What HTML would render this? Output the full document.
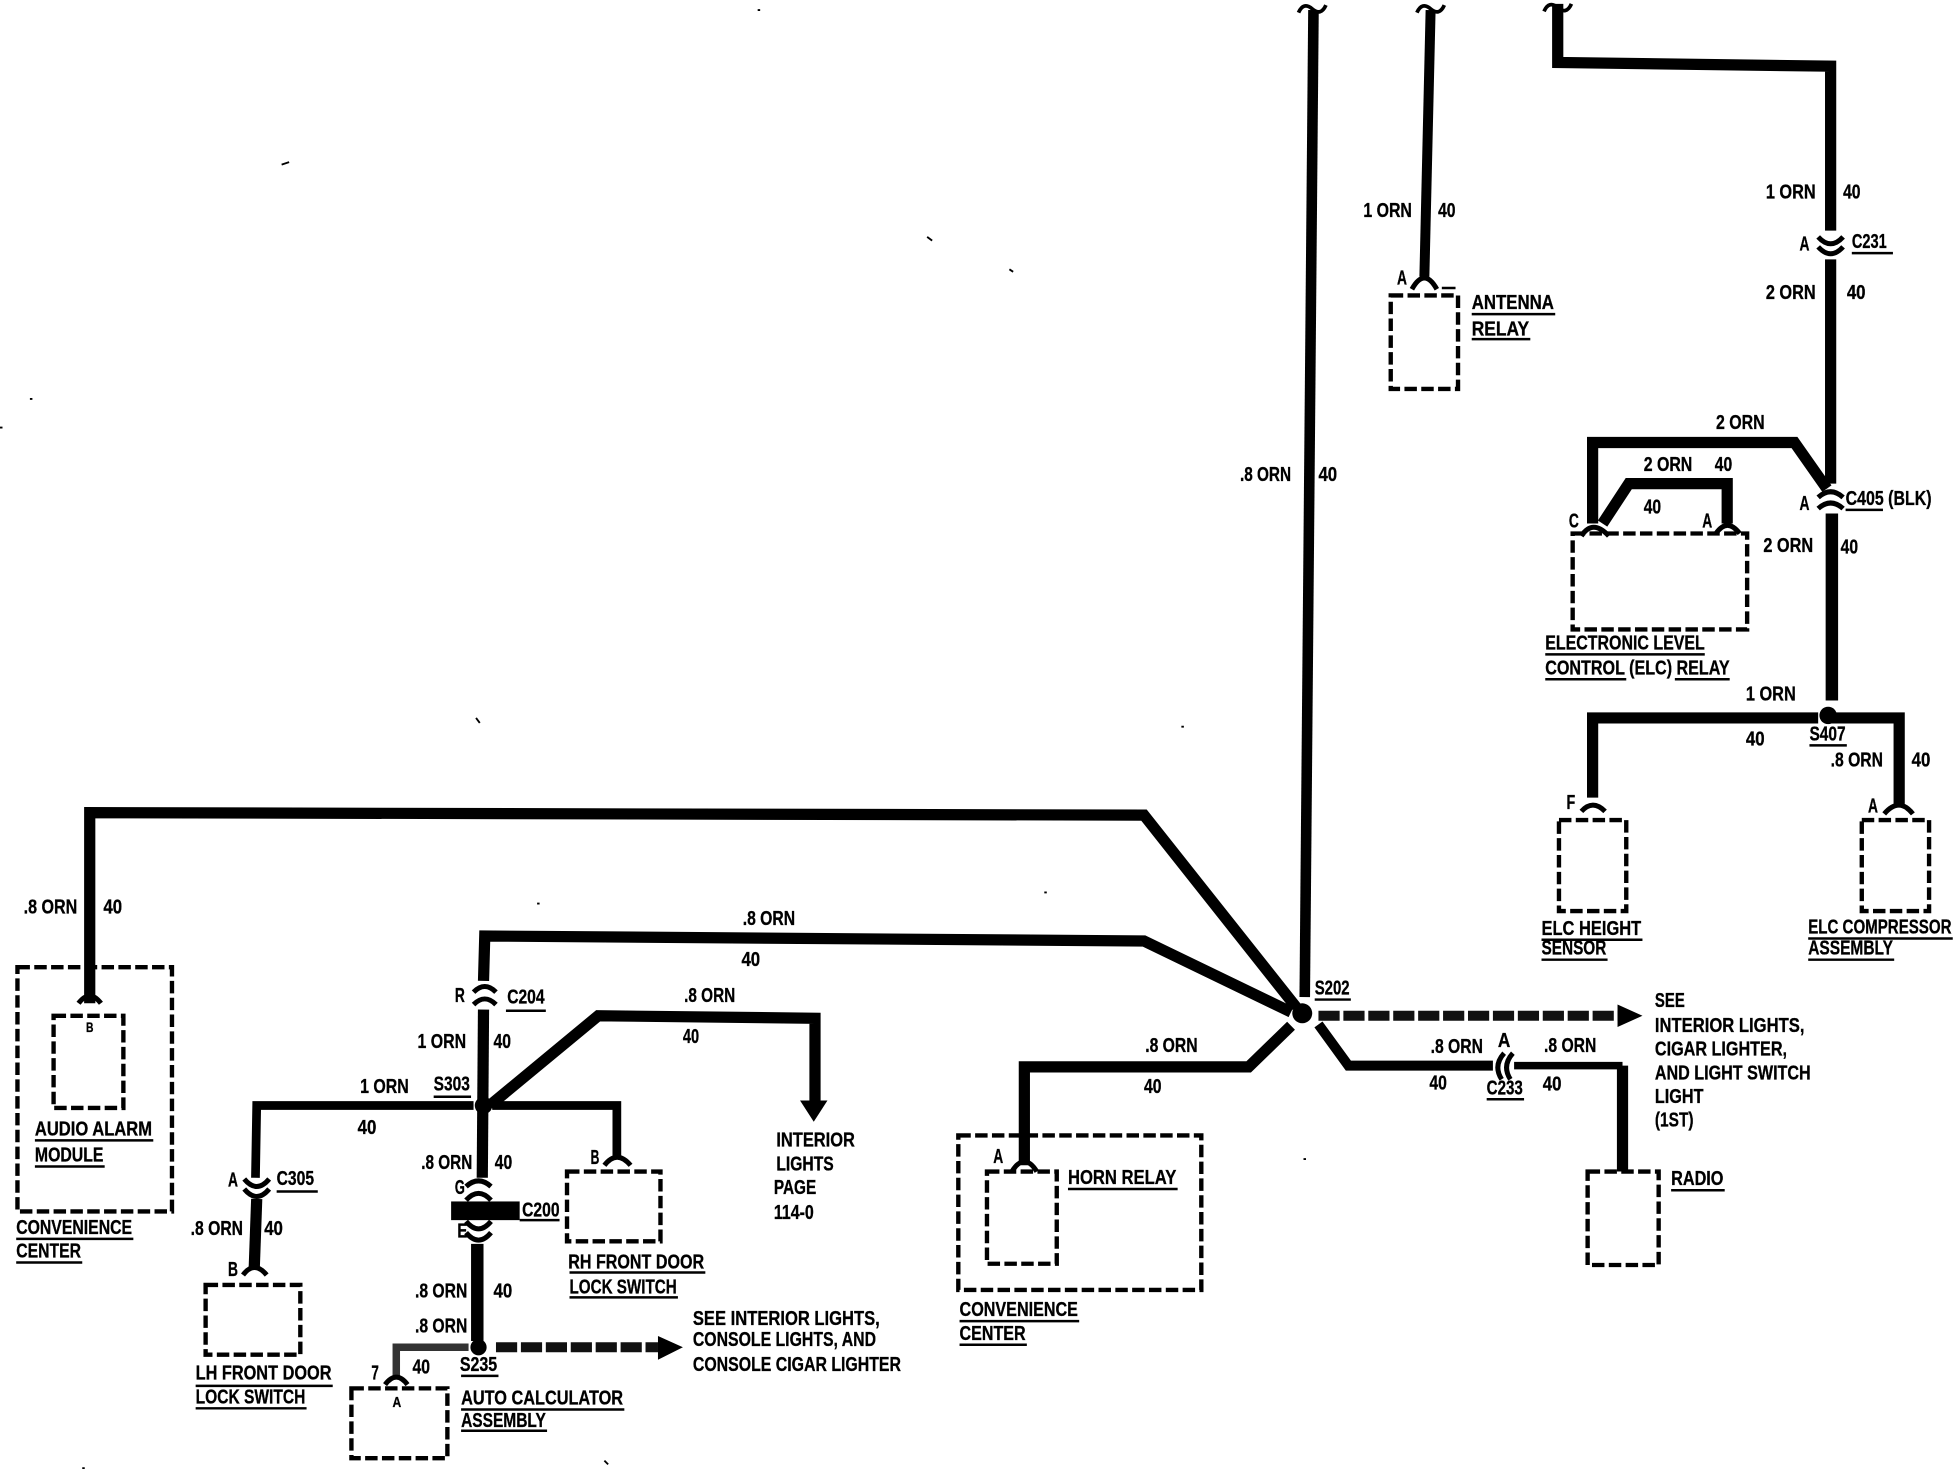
<!DOCTYPE html>
<html><head><meta charset="utf-8"><style>
html,body{margin:0;padding:0;background:#fff}
svg{display:block}
text{font-family:"Liberation Sans Narrow","Liberation Sans",sans-serif;font-weight:bold;font-size:16px;fill:#000;stroke:#000;stroke-width:.25}
.w{fill:none;stroke:#000;stroke-width:9;stroke-linejoin:miter}
.n{fill:none;stroke:#000;stroke-width:7}
.g{fill:none;stroke:#111;stroke-width:8;stroke-dasharray:17 3}
.b{fill:none;stroke:#000;stroke-width:3.5;stroke-dasharray:10 3.5}
.c{fill:none;stroke:#000;stroke-width:4}
.u{stroke:#000;stroke-width:2}
</style></head><body>
<svg width="1954" height="1472" viewBox="0 0 1568 1181" xmlns="http://www.w3.org/2000/svg">
<!-- wires -->
<path class="w" d="M72 805V652L918 654L1040 808"/>
<path class="w" d="M388 787L389 751L918 755L1036 812"/>
<path class="w" style="stroke-width:8.5" d="M1054 8L1047 800"/>
<path class="n" style="stroke-width:8" d="M1148 8L1143 222"/>
<path class="w" d="M1250 3V50L1469 53V185"/>
<path class="w" d="M1469 208V388"/>
<path class="w" d="M1278 420V355H1440L1466 392"/>
<path class="w" d="M1286 420L1307 388H1386V420"/>
<path class="w" style="stroke-width:10" d="M1470 412V562"/>
<path class="w" d="M1278 640V576H1459M1467 576H1524V645"/>
<path class="w" d="M822 935V856H1002L1036 823"/>
<path class="w" style="stroke-width:8" d="M1058 822L1082 855H1198"/>
<path class="w" style="stroke-width:6" d="M1215 855H1302"/>
<path class="w" d="M1302 855V940"/>
<path class="w" d="M388 810L387 945"/>
<path class="n" d="M380 887H206L205 945"/>
<path class="n" d="M395 887H495V930"/>
<path class="w" d="M393 887L480 815L654 817V885"/>
<path d="M642 883H664L653 900Z"/>
<path class="w" d="M206 962L204 1018"/>
<path class="w" style="stroke-width:10" d="M383 998V1076"/>
<path class="g" d="M1058 815H1305"/>
<path d="M1298 806L1318 815L1298 824Z"/>
<path class="g" d="M398 1081H528"/>
<path d="M528 1072L548 1081L528 1091Z"/>
<path class="n" style="stroke:#333;stroke-width:6" d="M376 1081H318V1105"/>
<circle cx="1045" cy="813" r="8"/><circle cx="1467" cy="574" r="7"/><circle cx="388" cy="887" r="7"/><circle cx="384" cy="1081" r="6.5"/>
<rect x="362" y="964" width="55" height="15"/>
<line class="u" x1="417" y1="979" x2="449" y2="979"/>
<!-- top breaks -->
<path class="c" style="stroke-width:3" d="M1042 10q4-9 11-3q7 6 11-3M1137 10q4-9 11-3q7 6 11-3M1239 9q4-9 11-3q7 6 11-3"/>
<!-- connectors -->
<path class="c" d="M63 805Q72 793 81 805M1133 232Q1143 214 1153 232M1459 190Q1469 201 1479 190M1459 198Q1469 209 1479 198M1459 399Q1469 390 1479 399M1459 408Q1469 399 1479 408M1269 430Q1278 416 1291 430M1377 428Q1386 415 1396 428M1269 651Q1278 641 1288 651M1512 653Q1524 639 1535 653M812 940Q822 924 832 940M1205 866Q1198 855 1207 845M1212 866Q1205 855 1214 845M380 796Q389 787 398 796M380 806Q389 797 398 806M196 946Q206 958 216 946M196 954Q206 966 216 954M195 1023Q204 1011 214 1023M485 935Q495 922 506 935M374 952Q384 943 394 952M374 963Q384 952 394 963M374 980Q384 992 394 980M374 989Q384 1001 394 989M309 1111Q318 1099 327 1111"/>
<!-- boxes -->
<rect class="b" x="1262" y="428" width="140" height="77"/>
<rect class="b" x="1116" y="237" width="54" height="75"/>
<rect class="b" x="1251" y="658" width="54" height="73"/>
<rect class="b" x="1494" y="658" width="54" height="73"/>
<rect class="b" x="1274" y="940" width="57" height="75"/>
<rect class="b" x="792" y="940" width="56" height="74"/>
<rect class="b" x="769" y="911" width="195" height="124"/>
<rect class="b" x="14" y="776" width="124" height="196"/>
<rect class="b" x="43" y="815" width="56" height="74"/>
<rect class="b" x="165" y="1031" width="76" height="56"/>
<rect class="b" x="455" y="940" width="75" height="56"/>
<rect class="b" x="282" y="1114" width="77" height="56"/>
<!-- underlines -->
<path class="u" d="M406 811H438M348 880H378M222 956H255M457 1021H566M457 1041H544M157 1112H267M157 1130H246M28 915H123M28 936H84M13 994H107M13 1013H66M370 1104H400M370 1131H501M370 1148H439M857 954H945M770 1060H866M770 1079H824M1055 802H1084M1193 882H1223M1341 955H1384M1237 754H1318M1237 770H1290M1451 753H1567M1451 770H1520M1452 598H1482M1240 525H1368M1240 545H1305M1344 545H1388M1481 409H1511M1486 203H1519M1181 252H1248M1181 272H1228M1157 231H1168"/>
<!-- specks -->
<path stroke="#000" stroke-width="1.5" d="M226 132L232 130M608 8h2M744 190l4 3M810 216l3 2M382 576l3 4M948 583h2M0 343h2M24 320h2M431 725h2M838 716h2M485 1172l3 3M1046 930h2M66 1178h2"/>
<!-- labels -->
<g>
<text x="19" y="733" textLength="43" lengthAdjust="spacingAndGlyphs">.8 ORN</text>
<text x="83" y="733" textLength="15" lengthAdjust="spacingAndGlyphs">40</text>
<text x="596" y="742" textLength="42" lengthAdjust="spacingAndGlyphs">.8 ORN</text>
<text x="595" y="775" textLength="15" lengthAdjust="spacingAndGlyphs">40</text>
<text x="365" y="804" textLength="8" lengthAdjust="spacingAndGlyphs">R</text>
<text x="407" y="805" textLength="30" lengthAdjust="spacingAndGlyphs">C204</text>
<text x="335" y="841" textLength="39" lengthAdjust="spacingAndGlyphs">1 ORN</text>
<text x="396" y="841" textLength="14" lengthAdjust="spacingAndGlyphs">40</text>
<text x="549" y="804" textLength="41" lengthAdjust="spacingAndGlyphs">.8 ORN</text>
<text x="548" y="837" textLength="13" lengthAdjust="spacingAndGlyphs">40</text>
<text x="289" y="877" textLength="39" lengthAdjust="spacingAndGlyphs">1 ORN</text>
<text x="348" y="875" textLength="29" lengthAdjust="spacingAndGlyphs">S303</text>
<text x="287" y="910" textLength="15" lengthAdjust="spacingAndGlyphs">40</text>
<text x="338" y="938" textLength="41" lengthAdjust="spacingAndGlyphs">.8 ORN</text>
<text x="397" y="938" textLength="14" lengthAdjust="spacingAndGlyphs">40</text>
<text x="474" y="934" textLength="7" lengthAdjust="spacingAndGlyphs">B</text>
<text x="183" y="952" textLength="8" lengthAdjust="spacingAndGlyphs">A</text>
<text x="222" y="951" textLength="30" lengthAdjust="spacingAndGlyphs">C305</text>
<text x="365" y="958" textLength="8" lengthAdjust="spacingAndGlyphs">G</text>
<text x="419" y="976" textLength="30" lengthAdjust="spacingAndGlyphs">C200</text>
<text x="367" y="993" textLength="8" lengthAdjust="spacingAndGlyphs">E</text>
<text x="153" y="991" textLength="42" lengthAdjust="spacingAndGlyphs">.8 ORN</text>
<text x="212" y="991" textLength="15" lengthAdjust="spacingAndGlyphs">40</text>
<text x="183" y="1024" textLength="8" lengthAdjust="spacingAndGlyphs">B</text>
<text x="333" y="1041" textLength="42" lengthAdjust="spacingAndGlyphs">.8 ORN</text>
<text x="396" y="1041" textLength="15" lengthAdjust="spacingAndGlyphs">40</text>
<text x="333" y="1069" textLength="42" lengthAdjust="spacingAndGlyphs">.8 ORN</text>
<text x="298" y="1107" textLength="6" lengthAdjust="spacingAndGlyphs">7</text>
<text x="331" y="1102" textLength="14" lengthAdjust="spacingAndGlyphs">40</text>
<text x="369" y="1100" textLength="30" lengthAdjust="spacingAndGlyphs">S235</text>
<text x="315" y="1129" textLength="7" lengthAdjust="spacingAndGlyphs" style="font-size:12px">A</text>
<text x="370" y="1127" textLength="130" lengthAdjust="spacingAndGlyphs">AUTO CALCULATOR</text>
<text x="370" y="1145" textLength="68" lengthAdjust="spacingAndGlyphs">ASSEMBLY</text>
<text x="157" y="1107" textLength="109" lengthAdjust="spacingAndGlyphs">LH FRONT DOOR</text>
<text x="157" y="1126" textLength="88" lengthAdjust="spacingAndGlyphs">LOCK SWITCH</text>
<text x="456" y="1018" textLength="109" lengthAdjust="spacingAndGlyphs">RH FRONT DOOR</text>
<text x="457" y="1038" textLength="86" lengthAdjust="spacingAndGlyphs">LOCK SWITCH</text>
<text x="28" y="911" textLength="94" lengthAdjust="spacingAndGlyphs">AUDIO ALARM</text>
<text x="28" y="932" textLength="55" lengthAdjust="spacingAndGlyphs">MODULE</text>
<text x="69" y="828" textLength="6" lengthAdjust="spacingAndGlyphs" style="font-size:11px">B</text>
<text x="13" y="990" textLength="93" lengthAdjust="spacingAndGlyphs">CONVENIENCE</text>
<text x="13" y="1009" textLength="52" lengthAdjust="spacingAndGlyphs">CENTER</text>
<text x="623" y="920" textLength="63" lengthAdjust="spacingAndGlyphs">INTERIOR</text>
<text x="623" y="939" textLength="46" lengthAdjust="spacingAndGlyphs">LIGHTS</text>
<text x="621" y="958" textLength="34" lengthAdjust="spacingAndGlyphs">PAGE</text>
<text x="621" y="978" textLength="32" lengthAdjust="spacingAndGlyphs">114-0</text>
<text x="556" y="1063" textLength="150" lengthAdjust="spacingAndGlyphs">SEE INTERIOR LIGHTS,</text>
<text x="556" y="1080" textLength="147" lengthAdjust="spacingAndGlyphs">CONSOLE LIGHTS, AND</text>
<text x="556" y="1100" textLength="167" lengthAdjust="spacingAndGlyphs">CONSOLE CIGAR LIGHTER</text>
<text x="919" y="844" textLength="42" lengthAdjust="spacingAndGlyphs">.8 ORN</text>
<text x="918" y="877" textLength="14" lengthAdjust="spacingAndGlyphs">40</text>
<text x="797" y="933" textLength="8" lengthAdjust="spacingAndGlyphs">A</text>
<text x="857" y="950" textLength="87" lengthAdjust="spacingAndGlyphs">HORN RELAY</text>
<text x="770" y="1056" textLength="95" lengthAdjust="spacingAndGlyphs">CONVENIENCE</text>
<text x="770" y="1075" textLength="53" lengthAdjust="spacingAndGlyphs">CENTER</text>
<text x="1055" y="798" textLength="28" lengthAdjust="spacingAndGlyphs">S202</text>
<text x="1148" y="845" textLength="42" lengthAdjust="spacingAndGlyphs">.8 ORN</text>
<text x="1202" y="840" textLength="10" lengthAdjust="spacingAndGlyphs">A</text>
<text x="1239" y="844" textLength="42" lengthAdjust="spacingAndGlyphs">.8 ORN</text>
<text x="1147" y="874" textLength="14" lengthAdjust="spacingAndGlyphs">40</text>
<text x="1193" y="878" textLength="29" lengthAdjust="spacingAndGlyphs">C233</text>
<text x="1238" y="875" textLength="15" lengthAdjust="spacingAndGlyphs">40</text>
<text x="1328" y="808" textLength="24" lengthAdjust="spacingAndGlyphs">SEE</text>
<text x="1328" y="828" textLength="120" lengthAdjust="spacingAndGlyphs">INTERIOR LIGHTS,</text>
<text x="1328" y="847" textLength="106" lengthAdjust="spacingAndGlyphs">CIGAR LIGHTER,</text>
<text x="1328" y="866" textLength="125" lengthAdjust="spacingAndGlyphs">AND LIGHT SWITCH</text>
<text x="1328" y="885" textLength="39" lengthAdjust="spacingAndGlyphs">LIGHT</text>
<text x="1328" y="904" textLength="31" lengthAdjust="spacingAndGlyphs">(1ST)</text>
<text x="1341" y="951" textLength="42" lengthAdjust="spacingAndGlyphs">RADIO</text>
<text x="1237" y="750" textLength="80" lengthAdjust="spacingAndGlyphs">ELC HEIGHT</text>
<text x="1237" y="766" textLength="52" lengthAdjust="spacingAndGlyphs">SENSOR</text>
<text x="1451" y="749" textLength="115" lengthAdjust="spacingAndGlyphs">ELC COMPRESSOR</text>
<text x="1451" y="766" textLength="68" lengthAdjust="spacingAndGlyphs">ASSEMBLY</text>
<text x="1257" y="649" textLength="7" lengthAdjust="spacingAndGlyphs">F</text>
<text x="1499" y="652" textLength="8" lengthAdjust="spacingAndGlyphs">A</text>
<text x="1401" y="562" textLength="40" lengthAdjust="spacingAndGlyphs">1 ORN</text>
<text x="1401" y="598" textLength="15" lengthAdjust="spacingAndGlyphs">40</text>
<text x="1452" y="594" textLength="29" lengthAdjust="spacingAndGlyphs">S407</text>
<text x="1469" y="615" textLength="42" lengthAdjust="spacingAndGlyphs">.8 ORN</text>
<text x="1534" y="615" textLength="15" lengthAdjust="spacingAndGlyphs">40</text>
<text x="1240" y="521" textLength="128" lengthAdjust="spacingAndGlyphs">ELECTRONIC LEVEL</text>
<text x="1240" y="541" textLength="148" lengthAdjust="spacingAndGlyphs">CONTROL (ELC) RELAY</text>
<text x="1259" y="423" textLength="8" lengthAdjust="spacingAndGlyphs">C</text>
<text x="1366" y="423" textLength="8" lengthAdjust="spacingAndGlyphs">A</text>
<text x="1377" y="344" textLength="39" lengthAdjust="spacingAndGlyphs">2 ORN</text>
<text x="1319" y="378" textLength="39" lengthAdjust="spacingAndGlyphs">2 ORN</text>
<text x="1376" y="378" textLength="14" lengthAdjust="spacingAndGlyphs">40</text>
<text x="1319" y="412" textLength="14" lengthAdjust="spacingAndGlyphs">40</text>
<text x="1444" y="409" textLength="8" lengthAdjust="spacingAndGlyphs">A</text>
<text x="1481" y="405" textLength="69" lengthAdjust="spacingAndGlyphs">C405 (BLK)</text>
<text x="1415" y="443" textLength="40" lengthAdjust="spacingAndGlyphs">2 ORN</text>
<text x="1477" y="444" textLength="14" lengthAdjust="spacingAndGlyphs">40</text>
<text x="1417" y="159" textLength="40" lengthAdjust="spacingAndGlyphs">1 ORN</text>
<text x="1479" y="159" textLength="14" lengthAdjust="spacingAndGlyphs">40</text>
<text x="1444" y="201" textLength="8" lengthAdjust="spacingAndGlyphs">A</text>
<text x="1486" y="199" textLength="28" lengthAdjust="spacingAndGlyphs">C231</text>
<text x="1417" y="240" textLength="40" lengthAdjust="spacingAndGlyphs">2 ORN</text>
<text x="1482" y="240" textLength="15" lengthAdjust="spacingAndGlyphs">40</text>
<text x="1094" y="174" textLength="39" lengthAdjust="spacingAndGlyphs">1 ORN</text>
<text x="1154" y="174" textLength="14" lengthAdjust="spacingAndGlyphs">40</text>
<text x="1121" y="228" textLength="8" lengthAdjust="spacingAndGlyphs">A</text>
<text x="1181" y="248" textLength="66" lengthAdjust="spacingAndGlyphs">ANTENNA</text>
<text x="1181" y="269" textLength="46" lengthAdjust="spacingAndGlyphs">RELAY</text>
<text x="995" y="386" textLength="41" lengthAdjust="spacingAndGlyphs">.8 ORN</text>
<text x="1058" y="386" textLength="15" lengthAdjust="spacingAndGlyphs">40</text>
</g>
</svg>
</body></html>
